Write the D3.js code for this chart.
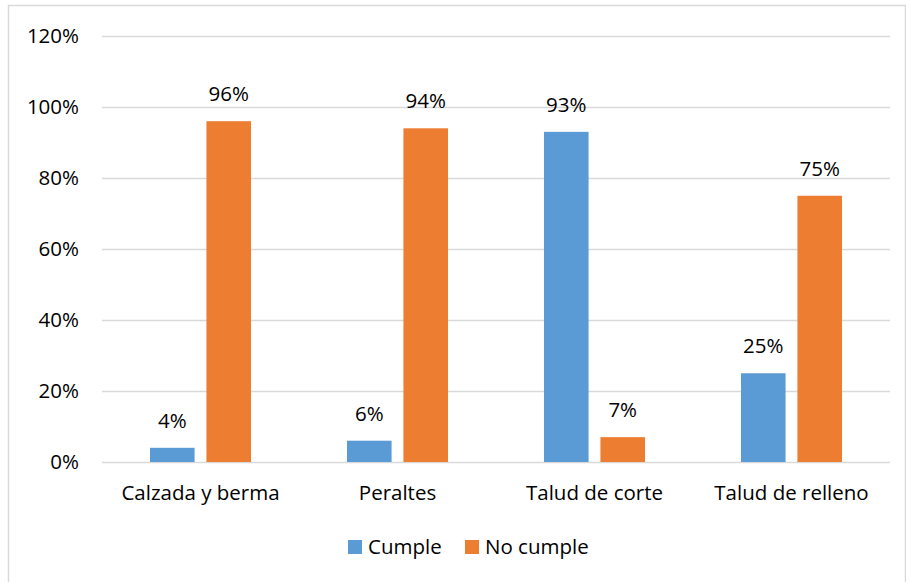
<!DOCTYPE html>
<html>
<head>
<meta charset="utf-8">
<script src="https://cdn.jsdelivr.net/npm/d3@7"></script>
<style>
  body { margin: 0; background: #fff; }
  svg text { font-family: "Open Sans", "Noto Sans", sans-serif; fill: #000; font-size: 20.5px; }
</style>
</head>
<body>
<div id="chart"></div>
<script>
const categories = ["Calzada y berma", "Peraltes", "Talud de corte", "Talud de relleno"];
const seriesNames = ["Cumple", "No cumple"];
const cumple = [4, 6, 93, 25];
const noCumple = [96, 94, 7, 75];
const yTicks = [0, 20, 40, 60, 80, 100, 120];
const colours = ["#5B9BD5", "#ED7D31"];

const width = 906;
const height = 582;
const margin = { top: 36, left: 102 };
const plotW = 788;
const plotH = 426;

const svg = d3.select("#chart")
  .append("svg")
  .attr("width", width)
  .attr("height", height);

// chart frame
svg.append("rect")
  .attr("x", 8.5)
  .attr("y", 5.5)
  .attr("width", width - 9)
  .attr("height", height)
  .attr("fill", "none")
  .attr("stroke", "#d9d9d9")
  .attr("stroke-width", 1.5);

const g = svg.append("g")
  .attr("transform", `translate(${margin.left},${margin.top})`);

const x = d3.scaleBand()
  .domain(categories)
  .range([0, plotW]);

const y = d3.scaleLinear()
  .domain([0, 120])
  .range([plotH, 0]);

const x1 = d3.scaleBand()
  .domain(seriesNames)
  .range([x.bandwidth() / 2 - 50.5, x.bandwidth() / 2 + 50.5])
  .paddingInner(0.21);

// gridlines
g.append("g")
  .selectAll("line")
  .data(yTicks)
  .join("line")
  .attr("x1", 0)
  .attr("x2", plotW)
  .attr("y1", (d) => Math.round(y(d)) + 0.5)
  .attr("y2", (d) => Math.round(y(d)) + 0.5)
  .attr("stroke", "#d9d9d9")
  .attr("stroke-width", 1.5);

// y axis labels
g.append("g")
  .selectAll("text")
  .data(yTicks)
  .join("text")
  .attr("x", -23)
  .attr("y", (d) => y(d))
  .attr("dy", "0.35em")
  .attr("text-anchor", "end")
  .text((d) => d + "%");

const rows = categories.map((c, i) => ({ cat: c, values: [cumple[i], noCumple[i]] }));

const groups = g.selectAll(".grp")
  .data(rows)
  .join("g")
  .attr("class", "grp")
  .attr("transform", (d) => `translate(${x(d.cat)},0)`);

groups.selectAll("rect")
  .data((d) => d.values.map((v, j) => ({ key: seriesNames[j], v, j })))
  .join("rect")
  .attr("x", (d) => x1(d.key))
  .attr("width", x1.bandwidth())
  .attr("y", (d) => y(d.v))
  .attr("height", (d) => y(0) - y(d.v))
  .attr("fill", (d) => colours[d.j]);

groups.selectAll(".val")
  .data((d) => d.values.map((v, j) => ({ key: seriesNames[j], v })))
  .join("text")
  .attr("class", "val")
  .attr("x", (d) => x1(d.key) + x1.bandwidth() / 2)
  .attr("y", (d) => y(d.v) - 20)
  .attr("text-anchor", "middle")
  .text((d) => d.v + "%");

// category labels
g.append("g")
  .selectAll("text")
  .data(categories)
  .join("text")
  .attr("x", (d) => x(d) + x.bandwidth() / 2)
  .attr("y", plotH + 38)
  .attr("text-anchor", "middle")
  .text((d) => d);

// legend
const legend = svg.append("g")
  .attr("transform", "translate(348,540)");

const legendX = [0, 117];
const items = legend.selectAll("g")
  .data(seriesNames)
  .join("g")
  .attr("transform", (d, i) => `translate(${legendX[i]},0)`);

items.append("rect")
  .attr("width", 14)
  .attr("height", 14)
  .attr("fill", (d, i) => colours[i]);

items.append("text")
  .attr("x", 20)
  .attr("y", 7)
  .attr("dy", "0.35em")
  .text((d) => d);
</script>
</body>
</html>
